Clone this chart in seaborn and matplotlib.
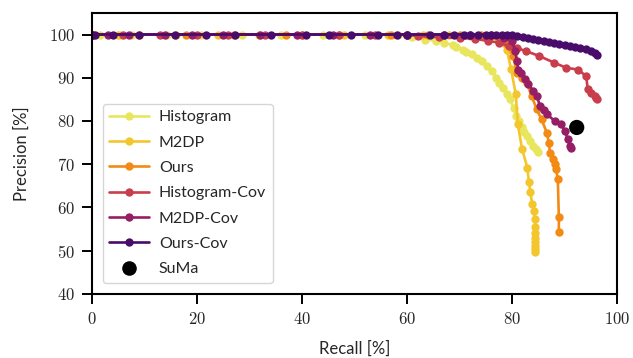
import numpy as np
import pandas as pd
import matplotlib
matplotlib.use("Agg")
import matplotlib.pyplot as plt
from matplotlib.ticker import FuncFormatter
from matplotlib.lines import Line2D
import seaborn as sns

methods = ["Histogram", "M2DP", "Ours", "Histogram-Cov", "M2DP-Cov", "Ours-Cov"]
colors = ["#e8e65c", "#f4c62e", "#f28a13", "#c83e4c", "#951e65", "#4a0c6b"]

hist_x = [0.5, 1.5, 5.3, 7.7, 14.3, 20.8, 28.5, 36, 44, 52, 58.3, 61, 63.5, 65.5, 67.1, 68.8, 69.4,
          70.7, 71.3, 72.3, 73.3, 74.2, 75.2, 76.1, 77, 77.6, 78.3, 79, 79.6, 80.3, 80.8, 81.3, 81.8,
          82.3, 82.9, 83.5, 84, 84.5, 85]
hist_y = [100, 100, 100, 100, 100, 100, 100, 100, 100, 100, 99.8, 99.4, 98.8, 98.6, 98.1, 97.5, 97.2,
          96.5, 96.0, 95.6, 94.6, 93.8, 92.7, 91.5, 90, 88.8, 87.7, 86.3, 85, 83, 81.1, 80, 78.5,
          77.5, 76.5, 75.4, 74.3, 73.5, 72.8]

m2dp_x = [0, 5, 16, 24, 31.8, 40, 48, 56.3, 63, 68, 72, 75, 77.5, 79, 79.8, 80.7, 81.1, 81.9, 82.9,
          83.2, 83.5, 83.8, 84.2, 84.3, 84.4, 84.4, 84.4, 84.4, 84.4, 84.4, 84.4]
m2dp_y = [100, 100, 100, 100, 100, 100, 100, 100, 100, 99.8, 99.6, 99.4, 98.8, 96.5, 92, 86.2, 79.2,
          73.5, 69.2, 65.8, 63.5, 60.8, 59.2, 57.3, 55.5, 54, 53, 52, 51, 50.3, 49.8]

ours_x = [0, 9, 18, 27, 37, 47, 57, 64, 70, 74, 76, 77.6, 79, 80.2, 80.9, 81.8, 82.8, 83.7, 84.7,
          85.6, 86.6, 87, 87.2, 87.8, 88.1, 88.4, 88.7, 88.9, 88.9]
ours_y = [100, 100, 100, 100, 100, 100, 100, 100, 100, 100, 99.6, 99, 97.7, 95, 91.2, 90, 88.8, 85.8,
          82.7, 80.4, 77.3, 75, 72.7, 71.2, 70, 68.8, 66.5, 57.7, 54.4]

histcov_x = [0, 6, 13, 20, 26, 33, 40, 47, 54, 60, 62, 66, 70, 73, 75.5, 77.6, 79.5, 81, 82.6, 85.2,
             88, 90.3, 92.5, 94.1, 94.4, 95.1, 95.7, 96, 96.2]
histcov_y = [100, 100, 100, 100, 100, 100, 100, 100, 100, 100, 99.6, 99.4, 99.2, 99, 98.5, 98.1, 97.3,
             96.8, 96.2, 95, 93.5, 92.3, 91.9, 90.4, 87.3, 86.5, 85.8, 85.3, 85]

m2dpcov_x = [0, 3, 7, 14, 19, 25, 32, 39, 46, 53, 60, 67, 72, 76, 78.5, 80, 80.6, 80.9, 81.2, 81.6,
             82.5, 83.1, 84, 84.7, 85.3, 86, 86.7, 88.1, 89.4, 90, 90.6, 91, 91.3]
m2dpcov_y = [100, 100, 100, 100, 100, 100, 100, 100, 100, 100, 100, 100, 100, 99.8, 99.3, 98.5, 96.2,
             93.8, 91.8, 91, 89.6, 88.5, 87, 85.8, 83.5, 82.5, 81.5, 80, 79.2, 77.7, 75.8, 74.2, 73.8]

ourscov_x = [0, 0.6, 4, 8.9, 15.9, 21.8, 27.2, 34.2, 40.7, 45.1, 49.3, 54.4, 58, 60, 64.3, 67, 69,
             70.9, 72, 73.5, 75, 76, 77, 78, 79, 80, 81, 82, 83, 84, 85, 86, 87, 88, 89, 90, 91, 92,
             93, 94, 95, 95.7, 96.2]
ourscov_y = [100] * 25 + [99.8, 99.7, 99.5, 99.3, 99, 98.8, 98.5, 98.3, 98, 97.8, 97.6, 97.3, 97.1,
                          96.9, 96.6, 96.2, 95.8, 95.3]

suma_x = [92.3]
suma_y = [78.5]

series = {
    "Histogram": (hist_x, hist_y),
    "M2DP": (m2dp_x, m2dp_y),
    "Ours": (ours_x, ours_y),
    "Histogram-Cov": (histcov_x, histcov_y),
    "M2DP-Cov": (m2dpcov_x, m2dpcov_y),
    "Ours-Cov": (ourscov_x, ourscov_y),
}

frames = []
for name, (xs, ys) in series.items():
    frames.append(pd.DataFrame({"Recall": xs, "Precision": ys, "method": name}))
df = pd.concat(frames, ignore_index=True)

sns.set_style("ticks")
plt.rcParams["mathtext.fontset"] = "cm"
plt.rcParams["font.family"] = ["Lato", "DejaVu Sans"]

fig = plt.figure(figsize=(6.33, 3.58), dpi=100)
ax = fig.add_axes([0.145, 0.179, 0.83, 0.785])

MS = 6.0
LW = 1.9
palette = dict(zip(methods, colors))
sns.lineplot(data=df, x="Recall", y="Precision", hue="method", hue_order=methods,
             palette=palette, estimator=None, sort=False, marker="o", markersize=MS,
             markeredgewidth=0, linewidth=LW, ax=ax, legend=False)
sns.scatterplot(x=suma_x, y=suma_y, color="black", s=120, edgecolor="none", ax=ax, zorder=5)

ax.set_xlim(0, 100)
ax.set_ylim(40, 105)
ax.set_xticks([0, 20, 40, 60, 80, 100])
ax.set_yticks([40, 50, 60, 70, 80, 90, 100])
fmt = FuncFormatter(lambda v, p: r"$%d$" % int(round(v)))
ax.xaxis.set_major_formatter(fmt)
ax.yaxis.set_major_formatter(fmt)
ax.tick_params(axis="both", labelsize=12, length=7, width=1.4, color="black",
               direction="out", pad=5)
for s in ax.spines.values():
    s.set_linewidth(1.5)
    s.set_color("black")
ax.set_xlabel("Recall [%]", fontsize=12, labelpad=10)
ax.set_ylabel("Precision [%]", fontsize=12, labelpad=14)

handles = [Line2D([0], [0], color=c, marker="o", markersize=MS, markeredgewidth=0, linewidth=LW)
           for c in colors]
handles.append(Line2D([0], [0], color="black", marker="o", markersize=10.5, linestyle="none",
                      markeredgewidth=0))
labels = methods + ["SuMa"]
ax.legend(handles, labels, loc="lower left", fontsize=11.5, labelspacing=0.7,
          handlelength=2.5, handletextpad=0.6, borderaxespad=0.7, frameon=True)

fig.savefig("out.png", dpi=100)
